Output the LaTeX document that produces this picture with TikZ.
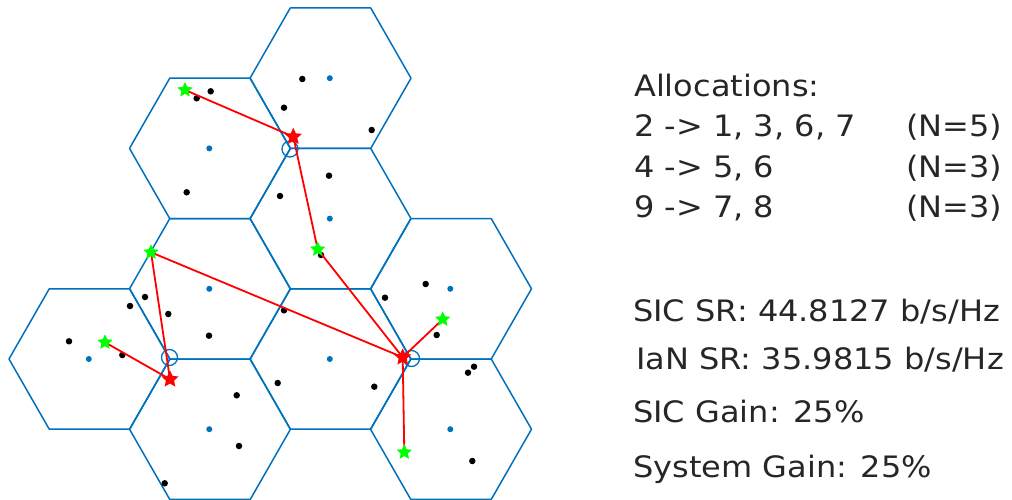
\documentclass[tikz,border=0pt]{standalone}
\usepackage{fontspec}
\setmainfont{DejaVu Sans}
\usetikzlibrary{shapes.geometric}
\definecolor{mblue}{rgb}{0,0.447,0.741}
\newcommand\sxt[1]{\scalebox{1.085}[1]{#1}}
\begin{document}
\begin{tikzpicture}[x=1pt,y=-1pt,
  cell/.style={draw=mblue,line width=1.5pt,line join=round},
  vcirc/.style={draw=mblue,line width=1.3pt},
  user/.style={circle,fill=black,inner sep=0,minimum size=6.5pt},
  bs/.style={circle,fill=mblue,inner sep=0,minimum size=6pt},
  link/.style={draw=red,line width=1.8pt},
  rstar/.style={star,star points=5,star point ratio=2.1,fill=red,inner sep=0,minimum size=18pt},
  gstar/.style={star,star points=5,star point ratio=2.1,fill=green,inner sep=0,minimum size=16pt},
  txt/.style={anchor=base west,inner sep=0,font=\fontsize{29.5}{35}\selectfont,text=black!85}
]
\useasboundingbox (0,0) rectangle (1012,500);
% cells
\foreach \cx/\cy in {330.5/78.2,210/148.4,330.5/218.6,210/288.8,451/288.8,89.5/359,330.5/359,210/429.2,451/429.2}{
  \draw[cell] (\cx-80.5,\cy) -- ++(40.25,-70.2) -- ++(80.5,0) -- ++(40.25,70.2) -- ++(-40.25,70.2) -- ++(-80.5,0) -- cycle;
  \node[bs] at (\cx-0.7,\cy) {};
}
% small circles at vertices
\draw[vcirc] (290,149) circle (8);
\draw[vcirc] (169.5,357.5) circle (8);
\draw[vcirc] (411.5,358.5) circle (8);
% users
\foreach \ux/\uy in {302.3/79,284/107.7,371.7/130,210.7/91.3,196.7/98.3,186.7/192.3,329/175.7,280/196,
  145/297,130/306,168.3/314,209/335.7,69/341.3,122.3/355,284/310.3,277.7/383,236.7/395.3,239/446,164.7/483.3,
  321/255,425.7/284,385/297.7,436.7/335,474/366.7,468/372.7,374.3/386.7,472.3/461}{
  \node[user] at (\ux,\uy) {};
}
% stars
\coordinate (r1) at (293.3,136.7);
\coordinate (r2) at (170,379.3);
\coordinate (r3) at (402.7,357.3);
\coordinate (g1) at (185,90);
\coordinate (g2) at (317.7,249.3);
\coordinate (g3) at (151,252.3);
\coordinate (g4) at (105,342.3);
\coordinate (g5) at (442.7,319.3);
\coordinate (g6) at (404.3,452.3);
\draw[link] (r1) -- (g1);
\draw[link] (r1) -- (g2);
\draw[link] (g2) -- (r3);
\draw[link] (g3) -- (r3);
\draw[link] (g3) -- (r2);
\draw[link] (g4) -- (r2);
\draw[link] (r3) -- (g5);
\draw[link] (r3) -- (g6);
\foreach \g in {g1,g2,g3,g4,g5,g6}{ \node[gstar] (s\g) at (\g) {}; }
\foreach \r in {r1,r2,r3}{ \node[rstar] (s\r) at (\r) {}; }
% text
\node[txt] (t1) at (634,97) {\sxt{Allocations:}};
\node[txt] (t2) at (634,137) {\sxt{2 -> 1, 3, 6, 7}};
\node[txt] (t3) at (634,177) {\sxt{4 -> 5, 6}};
\node[txt] (t4) at (634,217) {\sxt{9 -> 7, 8}};
\node[txt] (n2) at (906,137) {\sxt{(N=5)}};
\node[txt] (n3) at (906,177) {\sxt{(N=3)}};
\node[txt] (n4) at (906,217) {\sxt{(N=3)}};
\node[txt] (s1) at (633,321.7) {\sxt{SIC SR: 44.8127 b/s/Hz}};
\node[txt] (s2) at (636,369) {\sxt{IaN SR: 35.9815 b/s/Hz}};
\node[txt] (s3) at (633,422) {\sxt{SIC Gain: 25\%}};
\node[txt] (s4) at (633,477) {\sxt{System Gain: 25\%}};
\end{tikzpicture}
\end{document}
